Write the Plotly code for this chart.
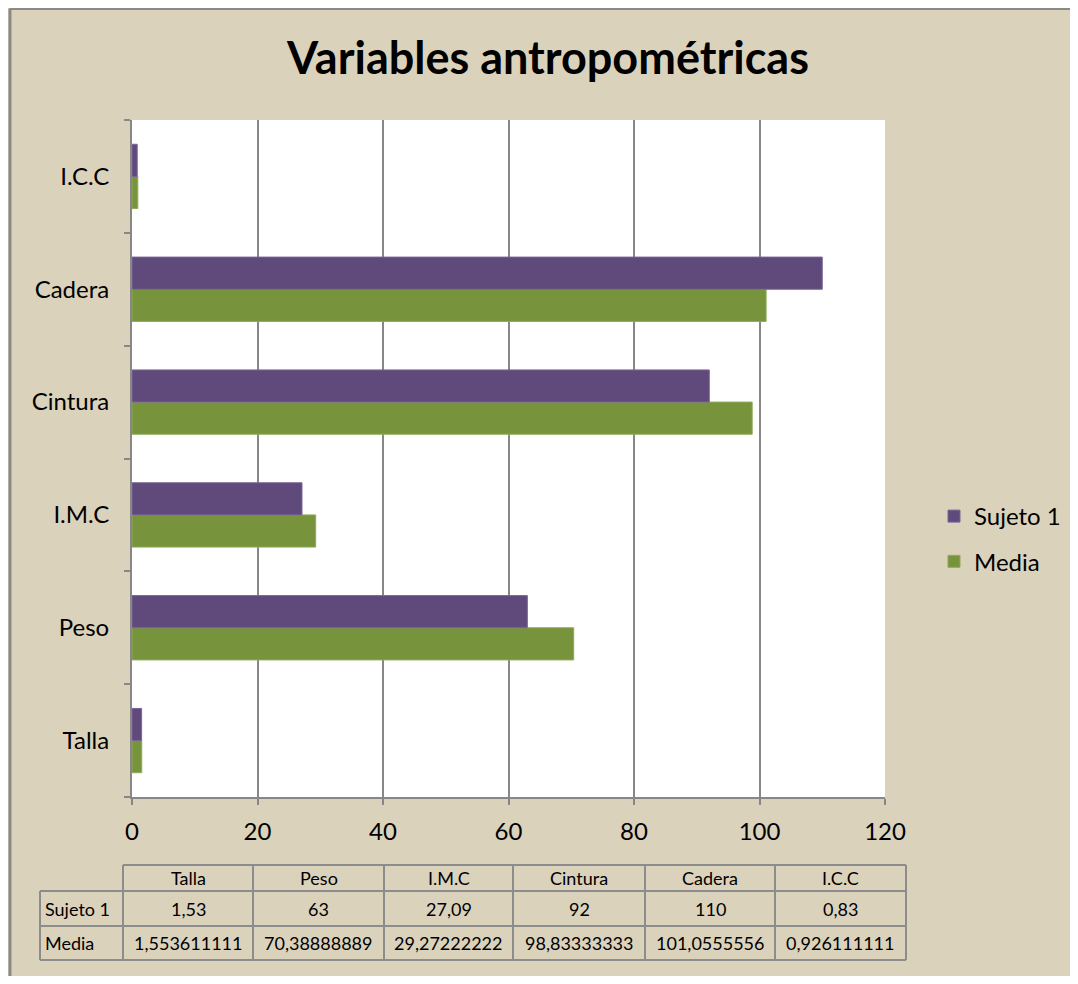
import plotly.graph_objects as go

# ---- data ----
categories = ["Talla", "Peso", "I.M.C", "Cintura", "Cadera", "I.C.C"]
sujeto1 = [1.53, 63, 27.09, 92, 110, 0.83]
media = [1.553611111, 70.38888889, 29.27222222, 98.83333333, 101.0555556, 0.926111111]
series_names = ["Sujeto 1", "Media"]
x_ticks = [0, 20, 40, 60, 80, 100, 120]

# ---- layout geometry (screen pixels; page body has an 8px margin) ----
OFF = 8
W, H = 1078 - 2 * OFF, 984 - 2 * OFF
PL, PR, PT, PB = 132, 885, 120, 797  # plot area in screen pixels
FONT = "Lato, 'Open Sans', sans-serif"
PURPLE = "#604A7B"
GREEN = "#77933C"
BG = "#DBD2BC"
GRID = "#878787"


def px_x(px):
    return (px - PL) / (PR - PL)


def px_y(py):
    return (PB - py) / (PB - PT)


def fmt(v):
    return str(v).replace(".", ",")


fig = go.Figure()
fig.add_trace(go.Bar(y=categories, x=media, name=series_names[1], orientation="h",
                     legendgroup="g2", legendrank=2,
                     marker=dict(color=GREEN, line=dict(color="#8FAA5A", width=1))))
fig.add_trace(go.Bar(y=categories, x=sujeto1, name=series_names[0], orientation="h",
                     legendgroup="g1", legendrank=1,
                     marker=dict(color=PURPLE, line=dict(color="#7A6596", width=1))))

shapes = []
annotations = []

# outer chart border (top and left visible)
shapes.append(dict(type="line", xref="paper", yref="paper", x0=px_x(10), x1=px_x(1090),
                   y0=px_y(8.5), y1=px_y(8.5), line=dict(color="#8A8A8A", width=3)))
shapes.append(dict(type="line", xref="paper", yref="paper", x0=px_x(10), x1=px_x(10),
                   y0=px_y(8.5), y1=px_y(1000), line=dict(color="#8A8A8A", width=3)))

# data table below the chart
col_edges = [40, 123, 253, 384, 513, 645, 775, 906]
row_edges = [865, 891, 926, 960]
tcol = "#8C8C8C"
shapes.append(dict(type="line", xref="paper", yref="paper", x0=px_x(123), x1=px_x(906),
                   y0=px_y(865), y1=px_y(865), line=dict(color=tcol, width=2)))
for ry in row_edges[1:]:
    shapes.append(dict(type="line", xref="paper", yref="paper", x0=px_x(40), x1=px_x(906),
                       y0=px_y(ry), y1=px_y(ry), line=dict(color=tcol, width=2)))
shapes.append(dict(type="line", xref="paper", yref="paper", x0=px_x(40), x1=px_x(40),
                   y0=px_y(891), y1=px_y(960), line=dict(color=tcol, width=2)))
for cx in col_edges[1:]:
    shapes.append(dict(type="line", xref="paper", yref="paper", x0=px_x(cx), x1=px_x(cx),
                       y0=px_y(865), y1=px_y(960), line=dict(color=tcol, width=2)))

row_centers = [(row_edges[i] + row_edges[i + 1]) / 2 for i in range(3)]
col_centers = [(col_edges[i] + col_edges[i + 1]) / 2 for i in range(1, 7)]
tfont = dict(family=FONT, size=18, color="black")
for i, c in enumerate(categories):
    annotations.append(dict(xref="paper", yref="paper", x=px_x(col_centers[i]), y=px_y(row_centers[0]),
                            text=c, showarrow=False, font=tfont, xanchor="center", yanchor="middle"))
    annotations.append(dict(xref="paper", yref="paper", x=px_x(col_centers[i]), y=px_y(row_centers[1]),
                            text=fmt(sujeto1[i]), showarrow=False, font=tfont, xanchor="center", yanchor="middle"))
    annotations.append(dict(xref="paper", yref="paper", x=px_x(col_centers[i]), y=px_y(row_centers[2]),
                            text=fmt(media[i]), showarrow=False, font=tfont, xanchor="center", yanchor="middle"))
for j, nm in enumerate(series_names):
    annotations.append(dict(xref="paper", yref="paper", x=px_x(43), y=px_y(row_centers[1 + j]),
                            text=nm, showarrow=False, font=tfont, xanchor="left", yanchor="middle"))

fig.update_layout(
    width=W, height=H,
    margin=dict(l=PL - OFF, r=W - (PR - OFF), t=PT - OFF, b=H - (PB - OFF), pad=0,
                autoexpand=False),
    paper_bgcolor=BG, plot_bgcolor="white",
    barmode="group", bargap=0.43, bargroupgap=0,
    title=dict(text="<b>Variables antropométricas</b>", x=(548 - OFF) / W, xanchor="center",
               y=1 - (58 - OFF) / H, yanchor="middle",
               font=dict(family=FONT, size=45, color="black")),
    font=dict(family=FONT, size=24, color="black"),
    legend=dict(x=px_x(934), y=px_y(494), xanchor="left", yanchor="top",
                traceorder="grouped", font=dict(family=FONT, size=24, color="black"),
                bgcolor="rgba(0,0,0,0)", itemwidth=30, tracegroupgap=11),
    xaxis=dict(range=[0, 120], tickvals=x_ticks, ticktext=[str(t) for t in x_ticks],
               showgrid=True, gridcolor=GRID, gridwidth=2,
               showline=True, linecolor=GRID, linewidth=2,
               ticks="outside", ticklen=6, tickcolor=GRID, tickwidth=2,
               tickfont=dict(family=FONT, size=24), zeroline=False, ticklabelstandoff=6,
               fixedrange=True, automargin=False),
    yaxis=dict(categoryorder="array", categoryarray=categories,
               showgrid=False, showline=True, linecolor=GRID, linewidth=2,
               ticks="outside", ticklen=6, tickcolor=GRID, tickwidth=2, tickson="boundaries",
               tickfont=dict(family=FONT, size=24), ticklabelstandoff=16,
               fixedrange=True, automargin=False),
    shapes=shapes,
    annotations=annotations,
)

fig.write_html("out.html")
